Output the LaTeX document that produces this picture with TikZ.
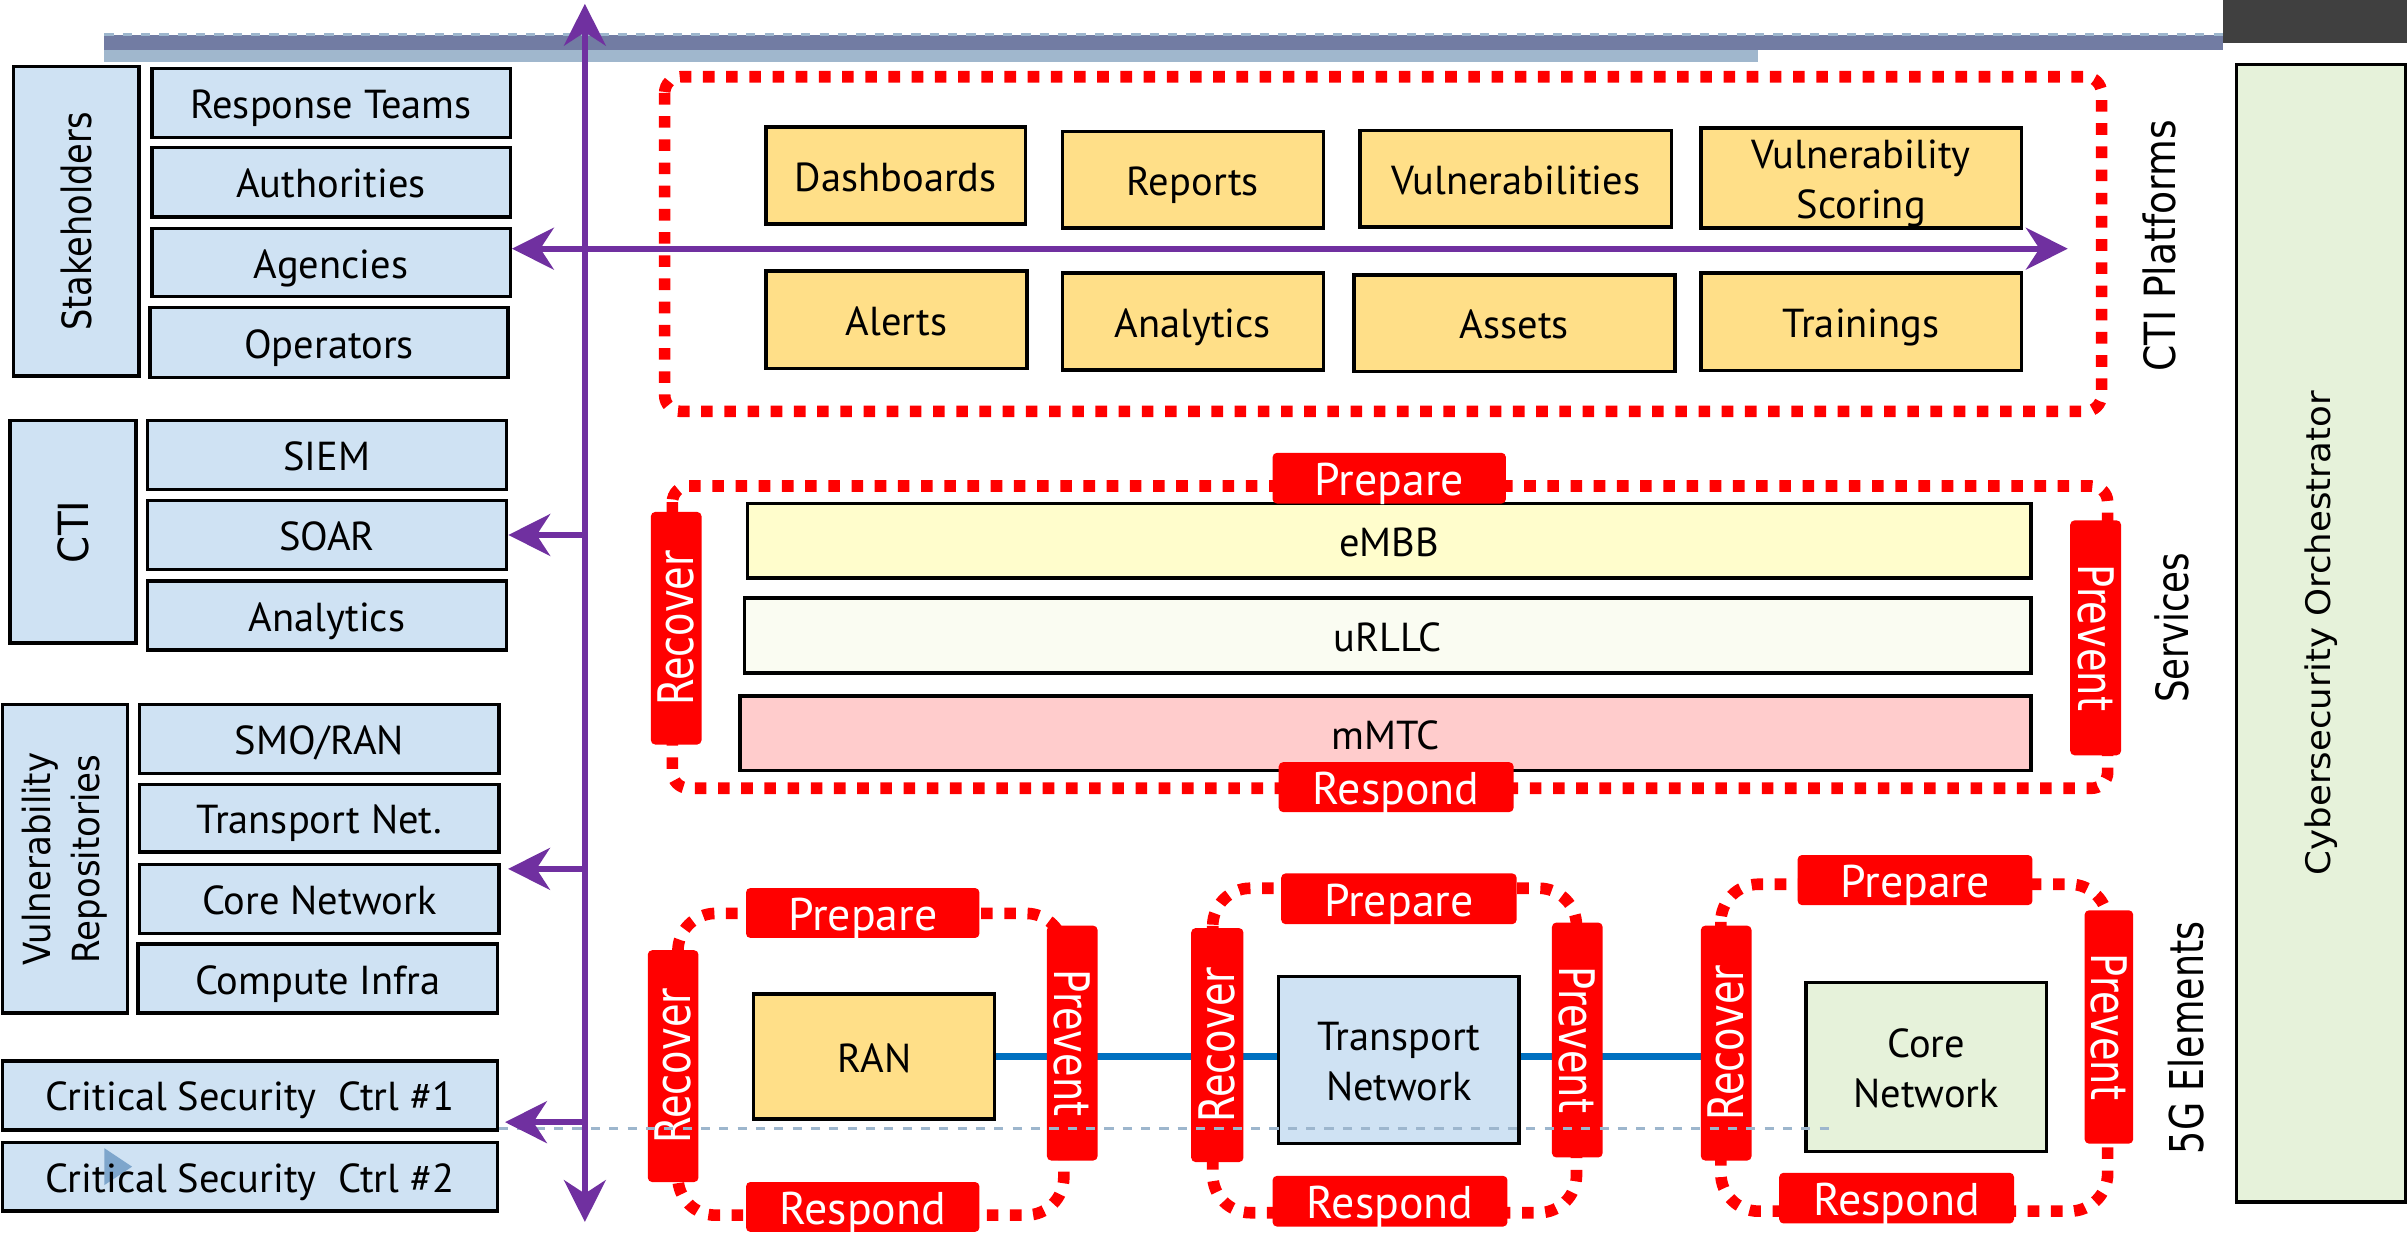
\documentclass[tikz,border=0pt]{standalone}
\usepackage{graphicx}
\usepackage{fontspec}
\setmainfont{PT Sans}
\newfontfamily\dvsans{DejaVu Sans}
\usetikzlibrary{arrows.meta}

\definecolor{boxblue}{HTML}{CFE2F3}
\definecolor{boxgold}{HTML}{FFDF88}
\definecolor{boxgreen}{HTML}{E6F2DA}
\definecolor{embbfill}{HTML}{FFFDCC}
\definecolor{urllcfill}{HTML}{FAFCF2}
\definecolor{mmtcfill}{HTML}{FFCCCC}
\definecolor{tagred}{HTML}{FF0000}
\definecolor{flowpurple}{HTML}{7030A0}
\definecolor{linkblue}{HTML}{0070C0}
\definecolor{bardark}{HTML}{727CA3}
\definecolor{barlight}{HTML}{A0B7CD}
\definecolor{cornergray}{HTML}{404040}
\definecolor{guidecol}{HTML}{9DB6CD}
\definecolor{markerblue}{HTML}{7EA6CC}

\pgfdeclarelayer{canvas}
\pgfdeclarelayer{links}
\pgfsetlayers{canvas,links,main}

\newcommand\boxfont{\fontsize{15}{18.5}\selectfont}
\newcommand\tagfont{\fontsize{17}{20}\selectfont}
% rotated label: size, vertical glyph stretch, text
\newcommand\vlabel[3]{\rotatebox{90}{\dvsans\fontsize{#1}{#1}\selectfont\scalebox{1}[#2]{#3}}}
\newcommand\uptag[1]{\rotatebox{90}{\dvsans\fontsize{14.2}{14.2}\selectfont\scalebox{1}[1.28]{#1}}}
\newcommand\downtag[1]{\rotatebox{-90}{\dvsans\fontsize{14.2}{14.2}\selectfont\scalebox{1}[1.28]{#1}}}
% two centred lines, set slightly low in their box
\newcommand\twolines[2]{\raisebox{-2pt}[\height][\depth]{\begin{tabular}{@{}c@{}}#1\\#2\end{tabular}}}
% box node: name, style, x1, y1, x2, y2, text
\newcommand\bx[7]{\node[#2, minimum width={(#5-#3)*0.02cm}, minimum height={(#6-#4)*0.02cm}] (#1) at ({(#3+#5)/2},{(#4+#6)/2}) {#7};}

\tikzset{
  lbox/.style={draw=black, line width=1.3pt, fill=boxblue, inner sep=0pt, align=center, font=\boxfont},
  oneline/.style={text height=11.6pt, text depth=0pt},
  ybox/.style={lbox, fill=boxgold},
  netbox/.style={lbox},
  gbox/.style={lbox, fill=boxgreen},
  htag/.style={fill=tagred, text=white, rounded corners=1.6pt, inner sep=0pt, font=\tagfont, text height=12.8pt, text depth=0pt},
  vtag/.style={fill=tagred, text=white, rounded corners=1.6pt, inner sep=0pt},
  dotloop/.style={draw=tagred, line width=4.3pt, dash pattern=on 4.3pt off 4.3pt},
  flowarrow/.style={draw=flowpurple, line width=2.2pt},
  linkline/.style={draw=linkblue, line width=2.7pt},
  guideline/.style={draw=guidecol, line width=0.9pt, dash pattern=on 3.4pt off 3.4pt},
  ptip/.tip={Stealth[length=15.5pt, width=15.5pt, inset=5pt]},
}

\begin{document}
\begin{tikzpicture}[x=0.02cm, y=-0.02cm]
\useasboundingbox (0,0) rectangle (1568,805);
\clip (0,0) rectangle (1568,805);
\begin{pgfonlayer}{canvas}
  \fill[white] (0,0) rectangle (1568,805);
\end{pgfonlayer}

% title bars
\fill[barlight] (68,32.6) rectangle (1145,40.4);
\fill[bardark] (68,22.8) rectangle (1448,32.6);
\draw[guideline] (68,22.4) -- (1448,22.4);
\fill[cornergray] (1448,0) rectangle (1568,28);

% stakeholders
\bx{stake}{lbox}{8.7}{43.4}{90.7}{245}{\vlabel{12.45}{1.2}{Stakeholders}}
\bx{resp}{lbox,oneline}{98.9}{44.5}{332.4}{89.5}{Response Teams}
\bx{auth}{lbox,oneline}{98.9}{96.2}{332.4}{141.2}{Authorities}
\bx{agen}{lbox,oneline}{98.9}{148.7}{332.4}{193.3}{Agencies}
\bx{oper}{lbox,oneline}{97.7}{200.2}{331}{246}{Operators}

% CTI tools
\bx{cti}{lbox}{6.4}{274}{88.6}{419}{\vlabel{14.4}{1.07}{CTI}}
\bx{siem}{lbox,oneline}{96}{274}{330}{319}{SIEM}
\bx{soar}{lbox,oneline}{96}{326}{330}{371}{SOAR}
\bx{anal}{lbox,oneline}{96}{378.6}{330}{423.5}{Analytics}

% vulnerability repositories
\bx{vrep}{lbox}{1.5}{459}{83}{660}{\rotatebox{90}{\dvsans\fontsize{12.6}{16.5}\selectfont\scalebox{1}[1.1]{\begin{tabular}{@{}c@{}}Vulnerability\\Repositories\end{tabular}}}}
\bx{smo}{lbox,oneline}{91}{459}{325}{504}{SMO/RAN}
\bx{tnet}{lbox,oneline}{91}{511}{325}{555}{Transport Net.}
\bx{cnet}{lbox,oneline}{91}{563}{325}{608}{Core Network}
\bx{cinf}{lbox,oneline}{90}{615}{324}{660}{Compute Infra}

% critical security controls
\bx{csc1}{lbox,oneline}{1.5}{691}{324}{736}{Critical Security\ \ Ctrl \#1}
\bx{csc2}{lbox,oneline, path picture={\fill[markerblue] ([shift={(66.5,3.6)}]path picture bounding box.north west) -- ([shift={(66.5,27.6)}]path picture bounding box.north west) -- ([shift={(84.5,15.6)}]path picture bounding box.north west) -- cycle;}}{1.5}{744.4}{324}{789}{Critical Security\ \ Ctrl \#2}

% CTI platforms
\draw[dotloop, rounded corners=6] (433,50) rectangle (1369,268);
\bx{dash}{ybox,oneline}{499}{82.6}{668}{146}{Dashboards}
\bx{repo}{ybox,oneline}{692}{85.5}{862}{148.6}{Reports}
\bx{vuln}{ybox,oneline}{886}{85}{1089}{148}{Vulnerabilities}
\bx{vsco}{ybox}{1108}{84}{1317}{148}{\twolines{Vulnerability}{Scoring}}
\bx{aler}{ybox,oneline}{499}{176.5}{669}{240}{Alerts}
\bx{anly}{ybox,oneline}{692}{178}{862}{241}{Analytics}
\bx{asse}{ybox,oneline}{882}{179}{1091}{242}{Assets}
\bx{trai}{ybox,oneline}{1108}{178}{1317}{241.5}{Trainings}
\node (ctip) at (1407,160) {\vlabel{14}{1.14}{CTI Platforms}};

% services
\draw[dotloop, rounded corners=6] (438,316.6) rectangle (1373,513.5);
\bx{embb}{lbox,oneline, fill=embbfill}{487}{328}{1323}{376.6}{eMBB}
\bx{urllc}{lbox,oneline, fill=urllcfill}{485}{389.7}{1323}{438.5}{uRLLC}
\bx{mmtc}{lbox,oneline, fill=mmtcfill}{482}{453.5}{1323}{502}{mMTC}
\bx{sprep}{htag}{829}{295}{981}{328}{Prepare}
\bx{sresp}{htag}{833}{496.5}{986}{529}{Respond}
\bx{srec}{vtag}{424}{333.5}{457}{485}{\uptag{Recover}}
\bx{sprev}{vtag}{1348.6}{339}{1381.7}{492}{\downtag{Prevent}}
\node (svc) at (1415,409) {\vlabel{13.2}{1.25}{Services}};

% 5G elements
\draw[dotloop, rounded corners=14] (441.6,595) rectangle (693,791.6);
\draw[dotloop, rounded corners=14] (790,578.6) rectangle (1027,790);
\draw[dotloop, rounded corners=14] (1121,576) rectangle (1373,789);

\bx{ran}{ybox,oneline}{491}{647.5}{648}{729}{RAN}
\bx{rprep}{htag}{486}{578.5}{638}{611}{Prepare}
\bx{rresp}{htag}{486}{770}{638}{802.5}{Respond}
\bx{rrec}{vtag}{422}{619}{455}{770}{\uptag{Recover}}
\bx{rprev}{vtag}{682}{603}{715}{756}{\downtag{Prevent}}

\bx{tran}{netbox}{833}{636}{989.6}{745}{\twolines{Transport}{Network}}
\bx{trec}{vtag}{776}{604.6}{810}{757}{\uptag{Recover}}
\bx{tprep}{htag}{834.6}{569}{988}{602}{Prepare}
\bx{tresp}{htag}{829}{766}{982}{799}{Respond}
\bx{tprev}{vtag}{1011}{601}{1044}{754}{\downtag{Prevent}}

\bx{core}{gbox}{1176.6}{640}{1333}{750}{\twolines{Core}{Network}}
\bx{crec}{vtag}{1108}{603}{1141}{756}{\uptag{Recover}}
\bx{cprep}{htag}{1171}{557}{1324}{589.6}{Prepare}
\bx{cresp}{htag}{1159}{764}{1312}{797}{Respond}
\bx{cprev}{vtag}{1358}{593}{1389.6}{745}{\downtag{Prevent}}
\node (fiveg) at (1424,676) {\vlabel{13.5}{1.28}{5G Elements}};

\begin{pgfonlayer}{links}
  \draw[linkline] (ran.east) -- (ran.east -| tran.west);
  \draw[linkline] (ran.east -| tran.east) -- (ran.east -| crec.center);
\end{pgfonlayer}

% orchestrator
\bx{orch}{gbox}{1457}{42}{1567}{783}{\vlabel{13.2}{0.95}{Cybersecurity Orchestrator}}

% guide line
\coordinate (guideend) at (1193,735);
\draw[guideline] (csc1.east |- guideend) -- (guideend);

% information flows
\coordinate (vtop) at (381,2.5);
\coordinate (vbot) at (381,796);
\draw[flowarrow, ptip-ptip] (vtop) -- (vbot);
\coordinate (ctiend) at (1347,162);
\draw[flowarrow, ptip-ptip] (agen.east |- ctiend) -- (ctiend);
\draw[flowarrow, -ptip] (soar.east -| vtop) -- (soar.east);
\coordinate (vrtip) at (331,566);
\draw[flowarrow, -ptip] (vrtip -| vtop) -- (vrtip);
\coordinate (cstip) at (329,731);
\draw[flowarrow, -ptip] (cstip -| vtop) -- (cstip);
\end{tikzpicture}
\end{document}
